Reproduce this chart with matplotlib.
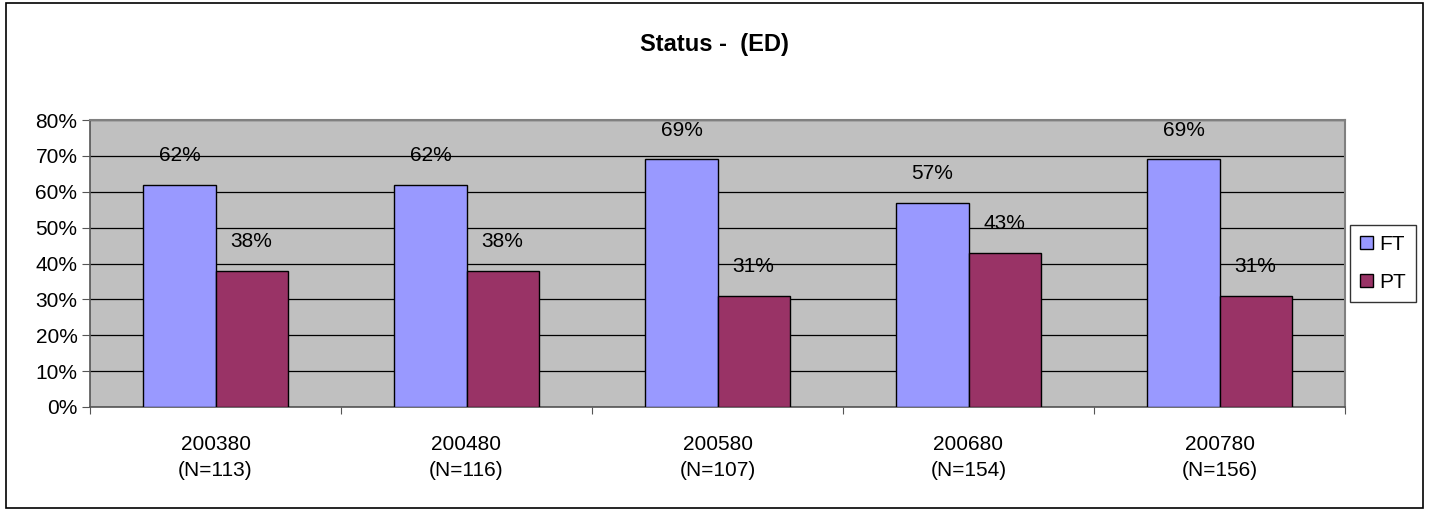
import matplotlib.pyplot as plt
from matplotlib.patches import Rectangle
import numpy as np

categorias = ['200380\n(N=113)', '200480\n(N=116)', '200580\n(N=107)', '200680\n(N=154)', '200780\n(N=156)']
ft = [62, 62, 69, 57, 69]
pt = [38, 38, 31, 43, 31]

plt.rcParams['font.family'] = ['Liberation Sans', 'DejaVu Sans']

fig = plt.figure(figsize=(14.29, 5.12), dpi=100)
ax = fig.add_axes([90 / 1429, 1 - 407 / 512, 1255 / 1429, 287 / 512])

x = np.arange(len(categorias))
larg = 0.287
b1 = ax.bar(x - larg / 2, ft, larg, color='#9999FF', edgecolor='black', linewidth=1, label='FT', zorder=3)
b2 = ax.bar(x + larg / 2, pt, larg, color='#993366', edgecolor='black', linewidth=1, label='PT', zorder=3)

for barras in (b1, b2):
    for b in barras:
        v = b.get_height()
        ax.annotate(f'{v:.0f}%', (b.get_x() + b.get_width() / 2, v), xytext=(0, 21),
                    textcoords='offset points', ha='center', va='center', fontsize=15)

ax.set_facecolor('#C0C0C0')
ax.set_xlim(-0.5, len(categorias) - 0.5)
ax.set_ylim(0, 80)
ax.set_yticks(range(0, 81, 10))
ax.set_yticklabels([f'{v}%' for v in range(0, 81, 10)], fontsize=15)
ax.yaxis.grid(True, color='black', linewidth=0.9, zorder=0)
ax.set_axisbelow(True)

# ticks nas fronteiras das categorias, rótulos no centro
ax.set_xticks(np.arange(-0.5, len(categorias), 1))
ax.set_xticklabels([])
ax.set_xticks(x, minor=True)
ax.set_xticklabels(categorias, minor=True, fontsize=15, linespacing=1.45)
ax.tick_params(axis='x', which='minor', length=0, pad=20)
ax.tick_params(axis='x', which='major', length=5, color='#555555', direction='out')
ax.tick_params(axis='y', length=6, color='#555555', direction='out', pad=3)

for s in ['top', 'right']:
    ax.spines[s].set_color('#808080')
    ax.spines[s].set_linewidth(1.5)
for s in ['left', 'bottom']:
    ax.spines[s].set_color('#555555')
    ax.spines[s].set_linewidth(1.2)

fig.text(0.5, 1 - 45 / 512, 'Status -  (ED)', ha='center', va='center', fontsize=17, fontweight='bold')

leg = ax.legend(loc='center left', bbox_to_anchor=(1260 / 1255, 0.5), frameon=True, fancybox=False,
                fontsize=15, handlelength=0.6, handleheight=0.6, borderpad=0.5, labelspacing=0.9,
                handletextpad=0.3, borderaxespad=0)
leg.get_frame().set_edgecolor('black')
leg.get_frame().set_linewidth(1)

fig.patches.append(Rectangle((6 / 1429, 4 / 512), 1417 / 1429, 505 / 512, transform=fig.transFigure,
                             fill=False, edgecolor='black', linewidth=1.2))

fig.savefig('out.png', dpi=100)
